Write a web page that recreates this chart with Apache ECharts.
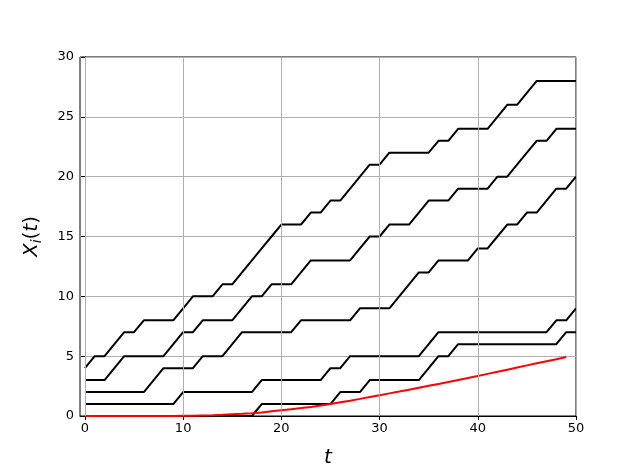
<!DOCTYPE html>
<html>
<head>
<meta charset="utf-8">
<script src="https://cdn.jsdelivr.net/npm/echarts@6/dist/echarts.min.js"></script>
<style>html,body{margin:0;padding:0;background:#fff;}#c{width:640px;height:468px;}</style>
</head>
<body>
<div id="c"></div>
<script>
// time steps
var tValues = [];
for (var k = 0; k <= 50; k++) tValues.push(k);
// five particle trajectories X_i(t)
var path1 = [4,5,5,6,7,7,8,8,8,8,9,10,10,10,11,11,12,13,14,15,16,16,16,17,17,18,18,19,20,21,21,22,22,22,22,22,23,23,24,24,24,24,25,26,26,27,28,28,28,28,28];
var path2 = [3,3,3,4,5,5,5,5,5,6,7,7,8,8,8,8,9,10,10,11,11,11,12,13,13,13,13,13,14,15,15,16,16,16,17,18,18,18,19,19,19,19,20,20,21,22,23,23,24,24,24];
var path3 = [2,2,2,2,2,2,2,3,4,4,4,4,5,5,5,6,7,7,7,7,7,7,8,8,8,8,8,8,9,9,9,9,10,11,12,12,13,13,13,13,14,14,15,16,16,17,17,18,19,19,20];
var path4 = [1,1,1,1,1,1,1,1,1,1,2,2,2,2,2,2,2,2,3,3,3,3,3,3,3,4,4,5,5,5,5,5,5,5,5,6,7,7,7,7,7,7,7,7,7,7,7,7,8,8,9];
var path5 = [0,0,0,0,0,0,0,0,0,0,0,0,0,0,0,0,0,0,1,1,1,1,1,1,1,1,2,2,2,3,3,3,3,3,3,4,5,5,6,6,6,6,6,6,6,6,6,6,6,7,7];
// red curve (t = 0..49)
var redCurve = [0,0,0,0,0,0,0,0,0,0.01,0.02,0.03,0.05,0.07,0.1,0.14,0.18,0.23,0.3,0.39,0.48,0.57,0.66,0.76,0.88,1.0,1.14,1.28,1.43,1.59,1.74,1.89,2.04,2.2,2.36,2.52,2.68,2.84,3.01,3.18,3.35,3.52,3.69,3.87,4.05,4.23,4.41,4.58,4.75,4.93];
var xTicks = [0,10,20,30,40,50];
var yTicks = [0,5,10,15,20,25,30];

function pairs(arr){ return arr.map(function(v,i){ return [tValues[i], v]; }); }

var blackPaths = [path1, path2, path3, path4, path5];
var series = blackPaths.map(function(p){
  return {type:'line', data: pairs(p), showSymbol:false, symbol:'none',
    lineStyle:{color:'#000', width:2}, z:3, animation:false};
});
series.push({type:'line', data: pairs(redCurve), showSymbol:false, symbol:'none',
  lineStyle:{color:'#ff0000', width:2}, z:4, animation:false,
  markLine:{silent:true, symbol:'none', label:{show:false}, animation:false,
    lineStyle:{color:'#b0b0b0', width:1, type:'solid'},
    data: xTicks.map(function(v){ return {xAxis:v}; })}
});

var chart = echarts.init(document.getElementById('c'), null, {renderer:'canvas'});
chart.setOption({
  animation:false,
  backgroundColor:'#fff',
  grid:{left:80, right:64, top:57, bottom:52, outerBoundsMode:'none', containLabel:false,
    show:true, borderColor:'#000', borderWidth:1, backgroundColor:'transparent'},
  xAxis:{type:'value', min:-0.5, max:50,
    name:'{it|t}', nameLocation:'middle', nameGap:32,
    nameTextStyle:{rich:{it:{fontFamily:'DejaVu Sans', fontStyle:'italic', fontSize:20, color:'#000'}}},
    axisLine:{show:true, lineStyle:{color:'#000', width:1}},
    axisTick:{show:true, customValues:xTicks, length:4, lineStyle:{color:'#000'}},
    axisLabel:{customValues:xTicks, color:'#000', fontFamily:'DejaVu Sans', fontSize:13, margin:6},
    splitLine:{show:false}
  },
  yAxis:{type:'value', min:0, max:30, interval:5,
    name:'{it|X}{sub|i}{n|(}{it|t}{n|)}', nameLocation:'middle', nameGap:36, nameRotate:90,
    nameTextStyle:{rich:{
      it:{fontFamily:'DejaVu Sans', fontStyle:'italic', fontSize:20, color:'#000'},
      sub:{fontFamily:'DejaVu Sans', fontStyle:'italic', fontSize:14, color:'#000', verticalAlign:'bottom', padding:[10,0,0,0]},
      n:{fontFamily:'DejaVu Sans', fontSize:20, color:'#000'}
    }},
    axisLine:{show:true, lineStyle:{color:'#000', width:1}},
    axisTick:{show:true, length:4, lineStyle:{color:'#000'}},
    axisLabel:{color:'#000', fontFamily:'DejaVu Sans', fontSize:13, margin:6},
    splitLine:{show:true, lineStyle:{color:'#b0b0b0', width:1}}
  },
  series: series
});
</script>
</body>
</html>
